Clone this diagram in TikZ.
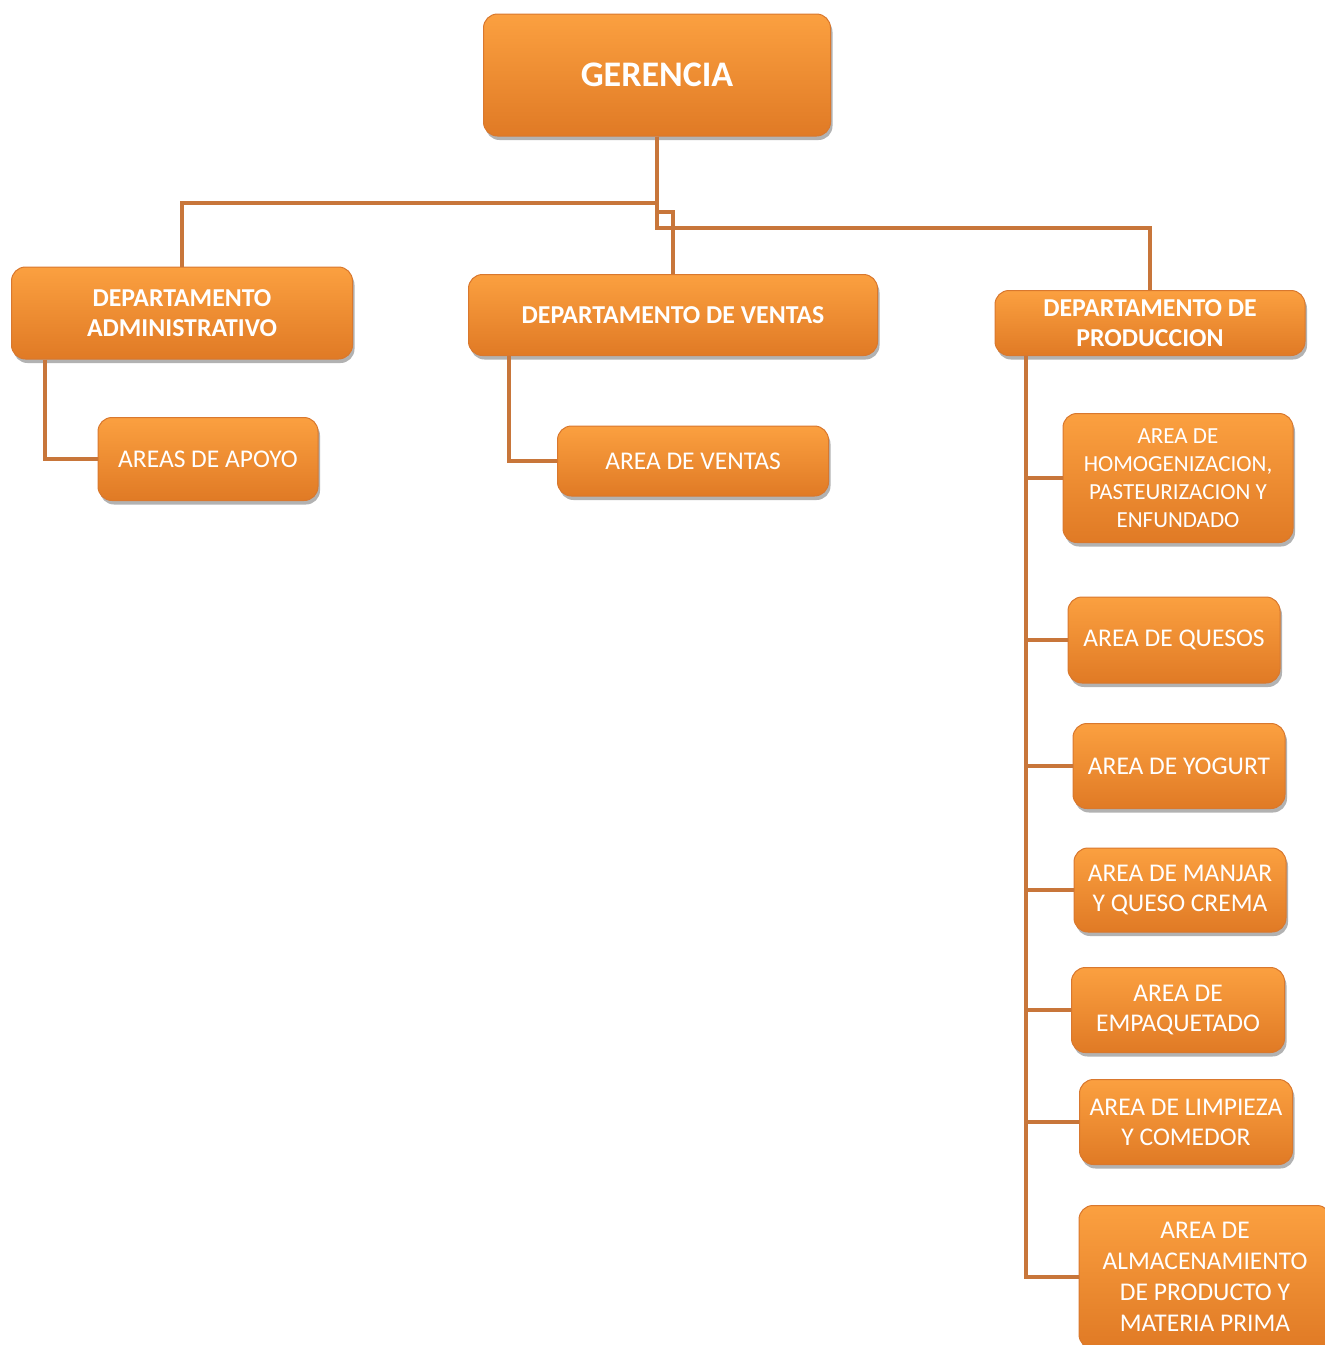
\documentclass[tikz,border=0pt]{standalone}
\usepackage{fontspec}
\setmainfont{Carlito}
\usetikzlibrary{shadows}
\definecolor{boxtop}{HTML}{FBA040}
\definecolor{boxbot}{HTML}{E07A25}
\definecolor{boxline}{HTML}{D9782E}
\definecolor{linkcol}{HTML}{C8763A}
\tikzset{
  box/.style={rectangle, rounded corners=14pt, draw=boxline, line width=1pt,
    top color=boxtop, bottom color=boxbot, text=white, align=center,
    inner sep=0pt,
    drop shadow={shadow xshift=2pt, shadow yshift=-4pt, opacity=0.3, fill=black}},
  deptbox/.style={box, font=\fontsize{25.8}{30}\selectfont\bfseries},
  areabox/.style={box, font=\fontsize{25.5}{30}\selectfont},
  link/.style={draw=linkcol, line width=4.5pt}
}
\begin{document}
\begin{tikzpicture}[x=1pt, y=-1pt]
\useasboundingbox (0,0) rectangle (1325,1345);

% boxes
\node[box, font=\fontsize{36}{40}\selectfont\bfseries, minimum width=347pt, minimum height=122pt] (ger) at (657,75) {GERENCIA};

\node[deptbox, minimum width=341pt, minimum height=92pt] (adm) at (182,313) {DEPARTAMENTO\\ADMINISTRATIVO};
\node[deptbox, minimum width=409pt, minimum height=81pt] (ven) at (673,315) {DEPARTAMENTO DE VENTAS};
\node[deptbox, minimum width=310pt, minimum height=65pt] (pro) at (1150,323) {DEPARTAMENTO DE\\PRODUCCION};

\node[areabox, minimum width=220pt, minimum height=83pt] (apoyo) at (208,459) {AREAS DE APOYO};
\node[areabox, minimum width=271pt, minimum height=70pt] (aven) at (693,461) {AREA DE VENTAS};

\node[areabox, font=\fontsize{23}{28}\selectfont, minimum width=230pt, minimum height=129pt] (homo) at (1178,478) {AREA DE\\HOMOGENIZACION,\\PASTEURIZACION Y\\ENFUNDADO};
\node[areabox, minimum width=212pt, minimum height=86pt] (queso) at (1174,640) {AREA DE QUESOS};
\node[areabox, minimum width=212pt, minimum height=85pt] (yog) at (1179,766) {AREA DE YOGURT};
\node[areabox, minimum width=212pt, minimum height=84pt] (manjar) at (1180,890) {AREA DE MANJAR\\Y QUESO CREMA};
\node[areabox, minimum width=213pt, minimum height=85pt] (empaq) at (1178,1010) {AREA DE\\EMPAQUETADO};
\node[areabox, minimum width=213pt, minimum height=85pt] (limp) at (1186,1122) {AREA DE LIMPIEZA\\Y COMEDOR};
\node[areabox, font=\fontsize{25.5}{31}\selectfont, minimum width=252pt, minimum height=143pt] (alm) at (1205,1277) {AREA DE\\ALMACENAMIENTO\\DE PRODUCTO Y\\MATERIA PRIMA};

% connectors
\draw[link] (ger.south) -- (ger.south |- 0,203) -| (adm.north);
\draw[link] (ger.south) -- (ger.south |- 0,212) -| (ven.north);
\draw[link] (ger.south) -- (ger.south |- 0,228) -| (pro.north);

\draw[link] ([xshift=34pt]adm.south west) |- (apoyo.west);
\draw[link] ([xshift=41pt]ven.south west) |- (aven.west);

\coordinate (pspine) at (1026,356);
\draw[link] (pspine) |- (alm.west);
\foreach \n in {homo,queso,yog,manjar,empaq,limp}
  \draw[link] (pspine |- \n.west) -- (\n.west);
\end{tikzpicture}
\end{document}
